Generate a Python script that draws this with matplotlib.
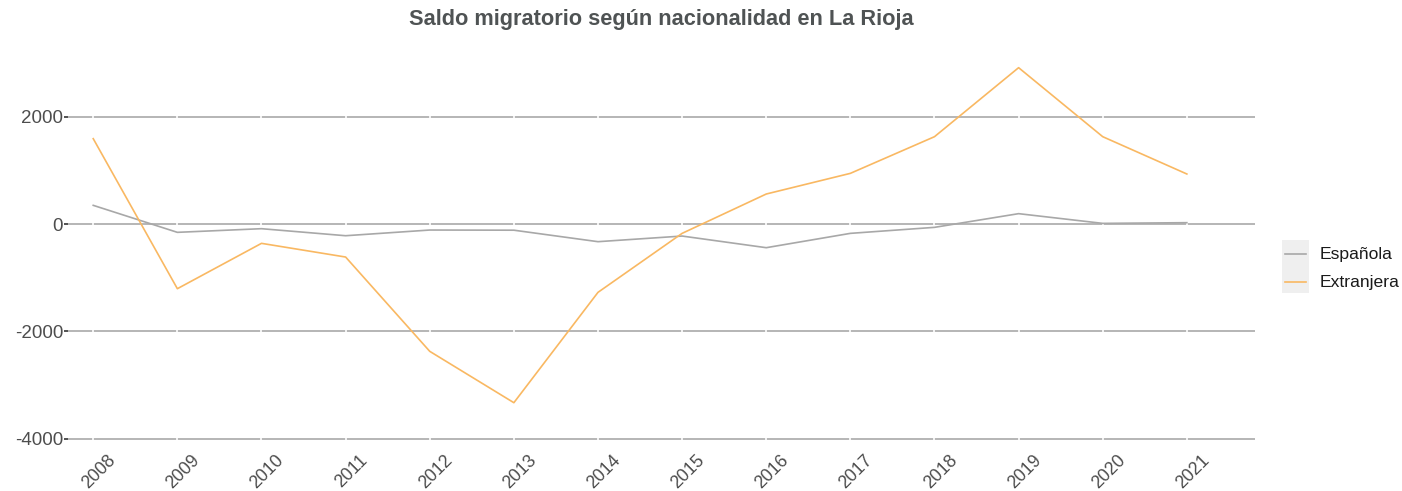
import matplotlib
matplotlib.use("Agg")
import matplotlib.pyplot as plt
from matplotlib.patches import Rectangle
from matplotlib.lines import Line2D
import matplotlib.transforms as mtransforms

years = [2008, 2009, 2010, 2011, 2012, 2013, 2014, 2015, 2016, 2017, 2018, 2019, 2020, 2021]
espanola = [348, -155, -87, -218, -112, -115, -329, -224, -441, -174, -62, 193, 12, 25]
extranjera = [1590, -1205, -360, -615, -2372, -3329, -1273, -174, 559, 944, 1627, 2913, 1627, 932]
series_names = ["Española", "Extranjera"]
colors = ["#a8a8a8", "#f9b862"]
y_ticks = [2000, 0, -2000, -4000]
title = "Saldo migratorio según nacionalidad en La Rioja"

plt.rcParams['font.family'] = ['Liberation Sans', 'DejaVu Sans']

W, H = 1402, 491
fig = plt.figure(figsize=(W / 100, H / 100), dpi=100)
ax = fig.add_axes([68 / W, 1 - 441.4 / H, (1255 - 68) / W, (441.4 - 46.9) / H])

ax.set_xlim(2007.7, 2021.81)
ax.set_ylim(-4050, 3300)

# horizontal grid
for yv in y_ticks:
    ax.axhline(yv, color="#b5b5b5", lw=1.4, zorder=1)
# white vertical gaps
for xv in years:
    ax.axvline(xv, color="white", lw=1.2, zorder=1.5)

ax.plot(years, espanola, color=colors[0], lw=1.2, zorder=3)
ax.plot(years, extranjera, color=colors[1], lw=1.2, zorder=3)

for s in ax.spines.values():
    s.set_visible(False)

ax.set_yticks(y_ticks)
ax.set_yticklabels([str(v) for v in y_ticks])
ax.set_xticks(years)
ax.set_xticklabels([str(y) for y in years], rotation=45, ha="center", va="top")
ax.tick_params(axis="y", length=3, width=1.2, color="#333333", labelsize=13.5, labelcolor="#4d4d4d", pad=0.5)
ax.tick_params(axis="x", length=0, labelsize=12.8, labelcolor="#4d4d4d", pad=7.5)
offset = mtransforms.ScaledTranslation(6 / 100, 0, fig.dpi_scale_trans)
for lbl in ax.get_xticklabels():
    lbl.set_transform(lbl.get_transform() + offset)

fig.text((68 + 1255) / 2 / W, 1 - 20 / H, title, ha="center", va="center",
         fontsize=15.7, fontweight="bold", color="#4f5354")

# legend
fig.patches.append(Rectangle((1282 / W, 1 - 293 / H), 27 / W, 53 / H,
                             transform=fig.transFigure, facecolor="#efefef", edgecolor="none"))
for i, (name, c) in enumerate(zip(series_names, colors)):
    yy = 1 - (254 + 28 * i) / H
    fig.lines.append(Line2D([1285 / W, 1306 / W], [yy, yy], transform=fig.transFigure, color=c, lw=1.2))
    fig.text(1320 / W, yy, name, ha="left", va="center", fontsize=12.6, color="#1a1a1a")

fig.savefig("out.png", dpi=100)
